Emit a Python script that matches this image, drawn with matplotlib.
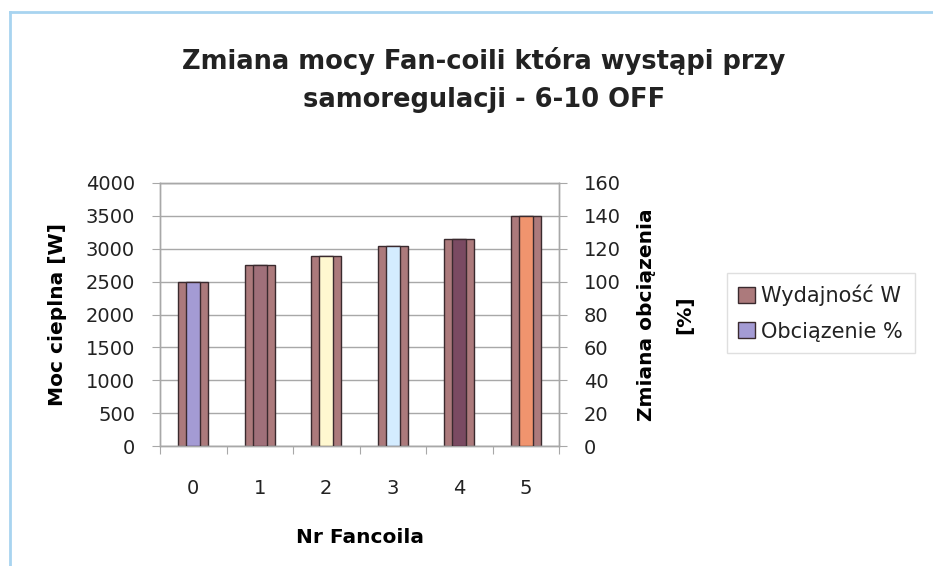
import matplotlib
matplotlib.use("Agg")
import matplotlib.pyplot as plt
from matplotlib.patches import Patch
from matplotlib.lines import Line2D

categories = ["0", "1", "2", "3", "4", "5"]
wydajnosc_w = [2500, 2750, 2890, 3035, 3150, 3500]
obciazenie_pct = [100, 110, 115.6, 121.4, 126, 140]
left_ticks = [0, 500, 1000, 1500, 2000, 2500, 3000, 3500, 4000]
right_ticks = [0, 20, 40, 60, 80, 100, 120, 140, 160]

outer_color = "#ac7a7c"
inner_colors = ["#a49bd4", "#a0707a", "#fff8d0", "#d4ecff", "#7a4a62", "#f0946e"]
edge = "#3a2a2e"
grid_c = "#a8a8a8"

plt.rcParams['font.family'] = ['DejaVu Sans']
plt.rcParams['text.color'] = '#222222'

fig = plt.figure(figsize=(9.33, 5.66), dpi=100)
W, H = 933, 566
ax = fig.add_axes([160 / W, (H - 446) / H, 399 / W, 263 / H])
x = list(range(len(categories)))

ax.set_axisbelow(True)
ax.bar(x, wydajnosc_w, width=0.45, color=outer_color, edgecolor=edge, linewidth=1.0, zorder=2)
ax.set_xlim(-0.5, 5.5)
ax.set_ylim(0, 4000)
ax.set_yticks(left_ticks)
ax.set_yticklabels([str(t) for t in left_ticks])
ax.yaxis.grid(True, color=grid_c, linewidth=1.0)
ax.tick_params(axis='y', length=6, color=grid_c, pad=12, labelsize=14, labelcolor='#222222')
# category ticks
ax.set_xticks([i - 0.5 for i in range(len(categories) + 1)])
ax.set_xticklabels([])
ax.set_xticks(x, minor=True)
ax.set_xticklabels(categories, minor=True)
ax.tick_params(axis='x', which='major', length=6, color=grid_c)
ax.tick_params(axis='x', which='minor', length=0, pad=24, labelsize=14, labelcolor='#222222')
for s in ax.spines.values():
    s.set_color(grid_c)
    s.set_linewidth(1.0)

ax2 = ax.twinx()
ax2.bar(x, obciazenie_pct, width=0.21, color=inner_colors, edgecolor=edge, linewidth=1.0, zorder=3)
ax2.set_ylim(0, 160)
ax2.set_yticks(right_ticks)
ax2.set_yticklabels([str(t) for t in right_ticks])
ax2.tick_params(axis='y', length=6, color=grid_c, pad=12, labelsize=14, labelcolor='#222222')
for s in ax2.spines.values():
    s.set_color(grid_c)
    s.set_linewidth(1.0)

ax.set_ylabel("Moc cieplna [W]", fontsize=14.5, fontweight='bold')
ax.yaxis.set_label_coords((67 - 160) / 399, 0.5)
ax2.set_ylabel("Zmiana obciązenia\n[%]", fontsize=14.5, fontweight='bold', linespacing=2.3)
ax2.yaxis.set_label_coords((637 - 160) / 399, 0.5)
ax.set_xlabel("Nr Fancoila", fontsize=14.5, fontweight='bold')
ax.xaxis.set_label_coords(0.5, -(528 - 446) / 263)

fig.text(484 / W, 1 - 80 / H,
         "Zmiana mocy Fan-coili która wystąpi przy\nsamoregulacji - 6-10 OFF",
         ha='center', va='center', fontsize=18.5, fontweight='bold', linespacing=1.6)

handles = [Patch(facecolor=outer_color, edgecolor=edge, linewidth=1.0, label="Wydajność W"),
           Patch(facecolor=inner_colors[0], edgecolor=edge, linewidth=1.0, label="Obciązenie %")]
leg = fig.legend(handles=handles, loc='upper left', bbox_to_anchor=(727 / W, 1 - 273 / H),
                 fontsize=15, frameon=True, fancybox=False, handlelength=0.8, handleheight=0.8,
                 handletextpad=0.3, labelspacing=0.75, borderpad=0.55, borderaxespad=0)
leg.get_frame().set_edgecolor('#d8d8d8')
leg.get_frame().set_linewidth(1.0)

# light blue outer frame (top and left)
fig.add_artist(Line2D([10 / W, 1.0], [1 - 12 / H, 1 - 12 / H], transform=fig.transFigure,
                      color='#a8d4f0', linewidth=2.0))
fig.add_artist(Line2D([10 / W, 10 / W], [0.0, 1 - 12 / H], transform=fig.transFigure,
                      color='#a8d4f0', linewidth=2.0))

fig.savefig("out.png", dpi=100)
